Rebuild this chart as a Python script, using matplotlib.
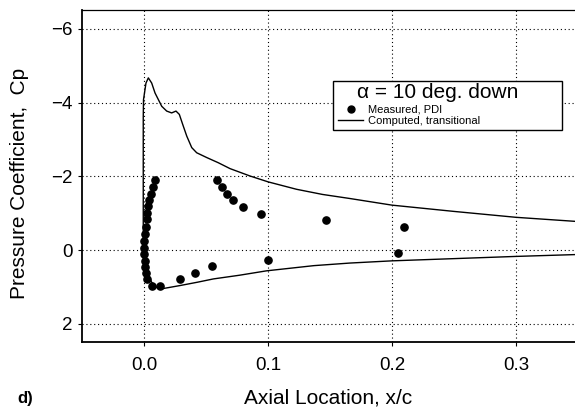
import matplotlib
matplotlib.use("Agg")
import matplotlib.pyplot as plt
from matplotlib.lines import Line2D
from matplotlib.patches import Rectangle

plt.rcParams['font.family'] = ['Liberation Sans', 'DejaVu Sans']

# Computed, transitional (lower surface from aft to LE, then upper surface aft)
comp_x = [0.348, 0.300, 0.250, 0.200, 0.166, 0.137, 0.099, 0.077, 0.056, 0.043,
          0.029, 0.0156, 0.0102, 0.0062, 0.0035, 0.0016, -0.0004, -0.0006, -0.0006,
          -0.0006, -0.0004, 0.0008, 0.0016, 0.0035, 0.0062, 0.0089, 0.0116, 0.0143,
          0.0183, 0.0223, 0.0258, 0.0285, 0.0312, 0.0345, 0.0385, 0.0425, 0.0506,
          0.0599, 0.0694, 0.0855, 0.1002, 0.123, 0.144, 0.166, 0.200, 0.250, 0.300,
          0.348]
comp_cp = [0.12, 0.17, 0.23, 0.29, 0.35, 0.42, 0.56, 0.68, 0.78, 0.87,
           0.96, 1.04, 1.01, 0.87, 0.69, 0.51, 0.38, 0.0, -2.2,
           -3.6, -4.08, -4.35, -4.53, -4.67, -4.53, -4.26, -4.08, -3.90,
           -3.77, -3.72, -3.77, -3.68, -3.41, -3.09, -2.78, -2.64, -2.51,
           -2.37, -2.21, -2.01, -1.85, -1.65, -1.51, -1.40, -1.22, -1.05, -0.89,
           -0.78]

# Measured, PDI
meas_x = [0.0089, 0.0070, 0.0056, 0.0043, 0.0035, 0.0027, 0.0021, 0.0013, 0.0008,
          0.0003, 0.0000, 0.0003, 0.0005, 0.0010, 0.0016, 0.0027, 0.0067, 0.0129,
          0.0290, 0.0410, 0.0546, 0.1003, 0.2050, 0.2100, 0.1465,
          0.0591, 0.0632, 0.0672, 0.0715, 0.0801, 0.0941]
meas_cp = [-1.89, -1.71, -1.53, -1.35, -1.20, -1.02, -0.84, -0.64, -0.43,
           -0.25, -0.07, 0.11, 0.29, 0.47, 0.62, 0.78, 0.96, 0.96,
           0.78, 0.62, 0.44, 0.26, 0.08, -0.64, -0.82,
           -1.89, -1.71, -1.53, -1.35, -1.17, -0.99]

xticks = [0.0, 0.1, 0.2, 0.3]
yticks = [-6, -4, -2, 0, 2]
legend_title = 'α = 10 deg. down'
legend_labels = ['Measured, PDI', 'Computed, transitional']

fig = plt.figure(figsize=(5.75, 4.07), dpi=100)
ax = fig.add_axes([82/575, 1-342/407, 1-82/575, (342-10)/407])

ax.plot(comp_x, comp_cp, color='black', lw=1.0, zorder=3, solid_joinstyle='round')
ax.plot(meas_x, meas_cp, 'o', color='black', ms=5.2, zorder=4)

ax.set_xlim(-0.05, 0.3476)
ax.set_ylim(2.49, -6.51)
ax.set_xticks(xticks)
ax.set_xticklabels([f'{v:.1f}' for v in xticks])
ax.set_yticks(yticks)
ax.grid(True, color='black', linestyle=(0, (1, 2.5)), linewidth=0.8)
ax.tick_params(direction='out', length=3, width=0.8, labelsize=13.5)
ax.tick_params(axis='x', pad=8)
ax.tick_params(axis='y', pad=4)

for s in ['left', 'bottom']:
    ax.spines[s].set_linewidth(1.3)
ax.spines['top'].set_linewidth(0.9)
ax.spines['right'].set_visible(False)

ax.set_xlabel('Axial Location, x/c', fontsize=15, labelpad=10)
ax.set_ylabel('Pressure Coefficient,  Cp', fontsize=15)
ax.yaxis.set_label_coords(-0.1075, 0.477)

# legend box with title
box = Rectangle((0.509, 0.639), 0.465, 0.147, transform=ax.transAxes,
                facecolor='white', edgecolor='black', lw=1.0, zorder=5)
ax.add_patch(box)
ax.text(0.722, 0.753, legend_title, transform=ax.transAxes, fontsize=15,
        ha='center', va='center', zorder=6)

handles = [Line2D([], [], marker='o', color='black', ls='none', ms=5),
           Line2D([], [], color='black', lw=1.0)]
leg = ax.legend(handles, legend_labels, fontsize=8,
                loc='upper left', bbox_to_anchor=(0.519, 0.715),
                frameon=False, borderpad=0, handlelength=2.3, handletextpad=0.4,
                labelspacing=0.1, borderaxespad=0)
leg.set_zorder(7)

fig.text(17/575, 1-398/407, 'd)', fontsize=12, fontweight='bold', va='center')

fig.savefig('out.png', dpi=100)
